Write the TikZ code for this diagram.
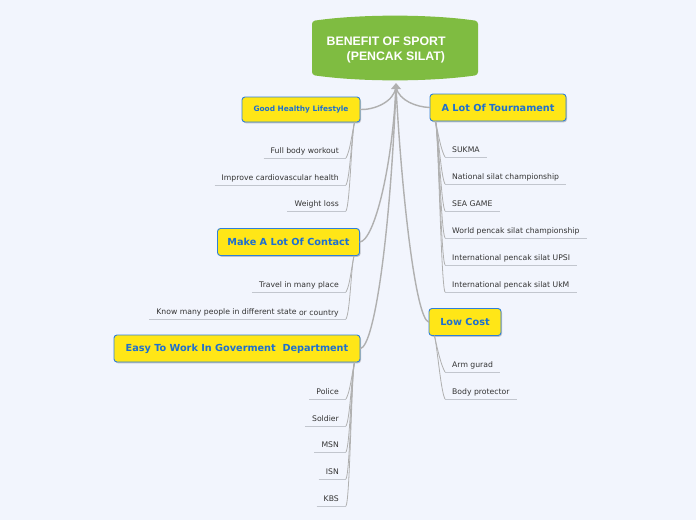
\documentclass[tikz,border=0pt]{standalone}
\usepackage{fontspec}
\setmainfont{DejaVu Sans}
\newfontfamily\titlefont{Liberation Sans}
\usetikzlibrary{shadows}
\definecolor{bg}{HTML}{F2F5FD}
\definecolor{rootgreen}{HTML}{7FBC41}
\definecolor{boxfill}{HTML}{FFE617}
\definecolor{boxline}{HTML}{2F7FD8}
\definecolor{boxtext}{HTML}{1D6FD0}
\definecolor{conn}{HTML}{B0B0B0}
\definecolor{leaftext}{HTML}{333333}
\definecolor{ulinec}{HTML}{C2C6CE}
\tikzset{
  branch/.style={draw=boxline, line width=0.9pt, fill=boxfill, rounded corners=3pt,
    text=boxtext, font=\bfseries\fontsize{9.7}{11}\selectfont, inner sep=0pt,
    minimum height=27pt,
    drop shadow={shadow xshift=1pt, shadow yshift=-1.3pt, opacity=0.3, fill=black!70}},
  leafbase/.style={inner xsep=7pt, inner ysep=3pt, text height=5.8pt, text depth=1.6pt,
    font=\fontsize{7.7}{9}\selectfont, text=leaftext},
  leafL/.style={leafbase, anchor=south east},
  leafR/.style={leafbase, anchor=south west},
  mainconn/.style={draw=conn, line width=1.4pt, line cap=round},
  subconn/.style={draw=conn, line width=0.8pt, line cap=round},
  uline/.style={draw=ulinec, line width=0.6pt},
}
\newcommand\subL[2]{\draw[subconn] ([xshift=-6pt]#1.south east) .. controls ([xshift=-9pt,yshift=-14pt]#1.south east) and ([xshift=4pt,yshift=7pt]#2.south east) .. (#2.south east);}
\newcommand\subR[2]{\draw[subconn] ([xshift=6pt]#1.south west) .. controls ([xshift=9pt,yshift=-14pt]#1.south west) and ([xshift=-4pt,yshift=7pt]#2.south west) .. (#2.south west);}
\newcommand\ul[1]{\draw[uline] (#1.south west) -- (#1.south east);}
\begin{document}
\begin{tikzpicture}[x=1pt,y=-1pt]
\fill[bg] (0,0) rectangle (696,520);
\useasboundingbox (0,0) rectangle (696,520);

% root
\node[minimum width=166pt, minimum height=60pt, inner sep=0pt] (root) at (395,48) {};
\fill[rootgreen, rounded corners=3pt] (312,21) .. controls (360,14) and (430,14) .. (478,21) -- (478,75)
   .. controls (430,82) and (360,82) .. (312,75) -- cycle;
\node[anchor=base west, inner sep=0pt, text=white, font=\titlefont\bfseries\fontsize{12.3}{15}\selectfont] (t1) at (326.5,45) {BENEFIT OF SPORT};
\node[anchor=base west, inner sep=0pt, text=white, font=\titlefont\bfseries\fontsize{12.3}{15}\selectfont] (t2) at (346.5,60) {(PENCAK SILAT)};
\fill[conn] (396,83) -- (401,89) -- (391,89) -- cycle;
\coordinate (hub) at (396,87);

% branches
\node[branch, minimum width=118pt, minimum height=25pt, font=\bfseries\fontsize{7.4}{9}\selectfont] (gh) at (301,109.5) {Good Healthy Lifestyle};
\node[branch, minimum width=136pt] (tour) at (498,107.5) {A Lot Of Tournament};
\node[branch, minimum width=142pt] (cont) at (288.5,242) {Make A Lot Of Contact};
\node[branch, minimum width=72pt] (low) at (465,322) {Low Cost};
\node[branch, minimum width=246pt] (gov) at (237,348.5) {Easy To Work In Goverment\ \ Department};

% main connectors
\draw[mainconn] (hub) .. controls (394,102) and (374,110) .. (gh.east);
\draw[mainconn] (hub) .. controls (399,101) and (417,107) .. (tour.west);
\draw[mainconn] (hub) .. controls (392,170) and (374,240) .. (cont.east);
\draw[mainconn] (hub) .. controls (402,200) and (416,318) .. (low.west);
\draw[mainconn] (hub) .. controls (390,240) and (374,346) .. (gov.east);

% Good healthy leaves
\node[leafL] (g1) at (346,158) {Full body workout};
\node[leafL] (g2) at (346,185) {Improve cardiovascular health};
\node[leafL] (g3) at (346,211) {Weight loss};
% Tournament leaves
\node[leafR] (r1) at (445,157) {SUKMA};
\node[leafR] (r2) at (445,184) {National silat championship};
\node[leafR] (r3) at (445,211) {SEA GAME};
\node[leafR] (r4) at (445,238) {World pencak silat championship};
\node[leafR] (r5) at (445,265) {International pencak silat UPSI};
\node[leafR] (r6) at (445,292) {International pencak silat UkM};
% Contact leaves
\node[leafL] (c1) at (346,292) {Travel in many place};
\node[leafL] (c2) at (346,319) {Know many people in different state\raisebox{-0.8pt}{ or country}};
% Low cost leaves
\node[leafR] (l1) at (445,372) {Arm gurad};
\node[leafR] (l2) at (445,399) {Body protector};
% Gov leaves
\node[leafL] (v1) at (346,399) {Police};
\node[leafL] (v2) at (346,426) {Soldier};
\node[leafL] (v3) at (346,452) {MSN};
\node[leafL] (v4) at (346,479) {ISN};
\node[leafL] (v5) at (346,506) {KBS};

\foreach \n in {g1,g2,g3,r1,r2,r3,r4,r5,r6,c1,c2,l1,l2,v1,v2,v3,v4,v5} {\ul{\n}}

\foreach \n in {g1,g2,g3} {\subL{gh}{\n}}
\foreach \n in {c1,c2} {\subL{cont}{\n}}
\foreach \n in {v1,v2,v3,v4,v5} {\subL{gov}{\n}}
\foreach \n in {r1,r2,r3,r4,r5,r6} {\subR{tour}{\n}}
\foreach \n in {l1,l2} {\subR{low}{\n}}
\end{tikzpicture}
\end{document}
